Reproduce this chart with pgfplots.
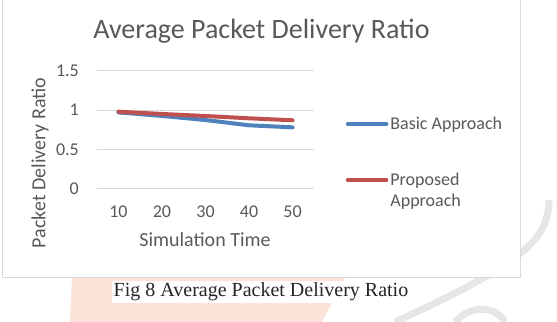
\documentclass[border=0pt]{standalone}
\usepackage{fontspec}
\setmainfont{Carlito}
\newfontfamily\timesfont{Liberation Serif}
\usepackage{pgfplots}
\pgfplotsset{compat=1.18}
\definecolor{xblue}{HTML}{4F81BD}
\definecolor{xred}{HTML}{C0504D}
\definecolor{xgrid}{HTML}{D9D9D9}
\definecolor{xtext}{HTML}{595959}
\definecolor{wpink}{HTML}{FCE3DA}
\definecolor{wgray}{HTML}{E6E6E6}
\begin{document}
\begin{tikzpicture}
\useasboundingbox (0,0) rectangle (557bp,-322bp);
% faint watermark background
\fill[wpink] (72bp,-278bp) -- (345bp,-278bp) -- (322bp,-322bp) -- (70bp,-322bp) -- cycle;
\draw[wgray, line width=7bp] (549bp,-200bp) .. controls (548bp,-240bp) and (525bp,-262bp) .. (395bp,-322bp);
\draw[wgray, line width=7bp] (505bp,-322bp) .. controls (495bp,-305bp) and (470bp,-305bp) .. (455bp,-322bp);
% chart box
\fill[white] (2.5bp,1bp) rectangle (520.7bp,-277.3bp);
\draw[xgrid, line width=1bp] (2.5bp,1bp) -- (2.5bp,-277.3bp) -- (520.7bp,-277.3bp) -- (520.7bp,1bp);
% title
\node[anchor=base, font=\fontsize{28bp}{32bp}\selectfont, text=xtext, inner sep=0pt] at (261.4bp,-38.5bp) {Average Packet Delivery Ratio};
\begin{axis}[
  at={(96.7bp,-188.7bp)}, anchor=south west,
  scale only axis, width=217.6bp, height=118bp,
  xmin=0.5, xmax=5.5, ymin=0, ymax=1.5,
  axis line style={draw=none}, tick style={draw=none},
  xtick={1,2,3,4,5}, xticklabels={10,20,30,40,50},
  ytick={0,0.5,1,1.5}, yticklabels={0,0.5,1,1.5},
  ymajorgrids, grid style={xgrid, line width=1bp},
  tick label style={font=\fontsize{18bp}{20bp}\selectfont, text=xtext},
  xticklabel style={anchor=base, inner sep=0pt, yshift=-29bp},
  yticklabel style={anchor=east, inner sep=0pt, xshift=-17.7bp},
  legend cell align=left,
  legend style={at={(axis description cs:1.143,0.624)}, anchor=north west,
    draw=none, fill=none, inner sep=0pt, row sep=37.5bp,
    font=\fontsize{18bp}{21bp}\selectfont, text=xtext,
    cells={align=left, inner sep=0pt}},
  legend image code/.code={\draw[#1, line width=3.6bp, line cap=round] (0bp,0bp) -- (39bp,0bp);},
]
\addplot[xblue, line width=4bp, line cap=round, line join=round] coordinates {(1,0.97) (2,0.925) (3,0.873) (4,0.806) (5,0.78)};
\addlegendentry{Basic Approach}
\addplot[xred, line width=4bp, line cap=round, line join=round,
  legend image code/.code={\draw[xred, line width=3.6bp, line cap=round] (0bp,10.5bp) -- (39bp,10.5bp); \path (0bp,-12.3bp);}]
  coordinates {(1,0.979) (2,0.95) (3,0.924) (4,0.895) (5,0.87)};
\addlegendentry{Proposed\\Approach}
\end{axis}
% axis titles
\node[anchor=base, font=\fontsize{20bp}{24bp}\selectfont, text=xtext, inner sep=0pt] at (205bp,-246.7bp) {Simulation Time};
\node[rotate=90, anchor=center, font=\fontsize{20bp}{24bp}\selectfont, text=xtext, inner sep=0pt] at (40bp,-163bp) {Packet Delivery Ratio};
% caption
\node[anchor=base, fill=white, inner sep=1.5bp, font=\timesfont\fontsize{20bp}{24bp}\selectfont, text=black!85] at (261bp,-296.7bp) {Fig 8 Average Packet Delivery Ratio};
\end{tikzpicture}
\end{document}
